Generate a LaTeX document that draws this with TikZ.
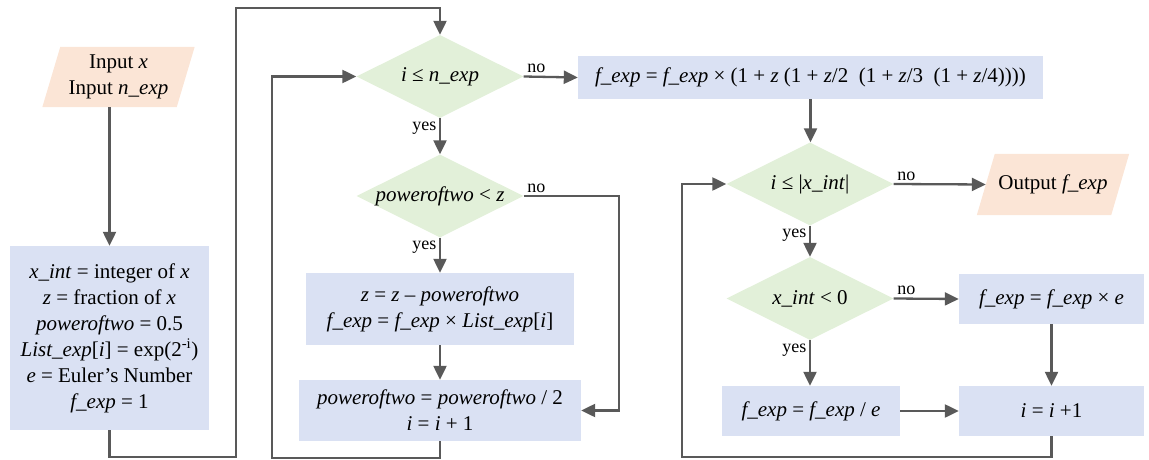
\documentclass[tikz,border=0pt]{standalone}
\usepackage{fontspec}
\setmainfont{Liberation Serif}
\usetikzlibrary{arrows.meta,shapes.geometric,calc,backgrounds}
\definecolor{peach}{HTML}{FBE5D6}
\definecolor{procblue}{HTML}{DAE1F3}
\definecolor{decgreen}{HTML}{E2F0D9}
\definecolor{linegray}{HTML}{595959}
\newcommand\zw[1]{\makebox[0pt]{#1}}
\tikzset{
 base/.style={inner sep=0pt, align=center, font=\fontsize{21}{26}\selectfont},
 proc/.style={base, rectangle, fill=procblue},
 dec/.style={base, diamond, fill=decgreen, minimum width=167pt, minimum height=83pt, aspect=2},
 iotext/.style={base, rectangle},
 arr/.style={draw=linegray, line width=2.3pt, -{Triangle[length=14pt,width=13pt]}},
 lab/.style={font=\fontsize{18}{20}\selectfont, inner sep=2.5pt},
}
\begin{document}
\begin{tikzpicture}[x=1pt,y=-1pt]
\useasboundingbox (0,0) rectangle (1149,460);

% nodes
\node[iotext, minimum width=134pt, minimum height=60pt] (in) at (118.5,77) {Input \textit{x}\\Input \textit{n\_exp}};
\node[proc, minimum width=199pt, minimum height=184pt] (init) at (109.5,338)
 {\textit{x\_int} = integer of \textit{x}\\
  \textit{z} = fraction of \textit{x}\\
  \textit{poweroftwo} = 0.5\\
  \textit{List\_exp}[\textit{i}] = exp(2\textsuperscript{-i})\\
  \textit{e} = Euler’s Number\\
  \textit{f\_exp} = 1};
\node[dec] (d1) at (440,76.5) {\zw{\textit{i} ≤ \textit{n\_exp}}};
\node[dec] (d2) at (440,196) {\zw{\textit{poweroftwo} < \textit{z}}};
\node[proc, minimum width=268pt, minimum height=72pt] (b1) at (440,309)
 {\textit{z} = \textit{z} – \textit{poweroftwo}\\ \textit{f\_exp} = \textit{f\_exp} × \textit{List\_exp}[\textit{i}]};
\node[proc, minimum width=282pt, minimum height=61pt] (b2) at (440,410.5)
 {\textit{poweroftwo} = \textit{poweroftwo} / 2\\ \textit{i} = \textit{i} + 1};
\node[proc, minimum width=465pt, minimum height=43pt] (fe) at (810.5,77.5)
 {\textit{f\_exp} = \textit{f\_exp} × (1 + \textit{z} (1 + \textit{z}/2~~(1 + \textit{z}/3~~(1 + \textit{z}/4))))};
\node[dec] (d3) at (810,184) {\zw{\textit{i} ≤ |\textit{x\_int}|}};
\node[iotext, minimum width=134pt, minimum height=61pt] (out) at (1053,184.5) {Output \textit{f\_exp}};
\node[dec] (d4) at (810,298.5) {\zw{\textit{x\_int} < 0}};
\node[proc, minimum width=185pt, minimum height=50pt] (bxe) at (1051.5,299) {\textit{f\_exp} = \textit{f\_exp} × \textit{e}};
\node[proc, minimum width=178pt, minimum height=50pt] (bdiv) at (811,411) {\textit{f\_exp} = \textit{f\_exp} / \textit{e}};
\node[proc, minimum width=185pt, minimum height=50pt] (binc) at (1051.5,411) {\textit{i} = \textit{i} +1};

% parallelogram fills
\begin{scope}[on background layer]
\fill[peach] ($(in.south west)+(-9,0)$) -- ($(in.north west)+(9,0)$) -- ($(in.north east)+(9,0)$) -- ($(in.south east)+(-9,0)$) -- cycle;
\fill[peach] ($(out.south west)+(-9,0)$) -- ($(out.north west)+(9,0)$) -- ($(out.north east)+(9,0)$) -- ($(out.south east)+(-9,0)$) -- cycle;
\end{scope}

% connectors
\draw[arr] (init.north |- in.south) -- (init.north);
\draw[arr] (init.south) |- (236,457) |- ($(d1.north)+(0,-27)$) -- (d1.north);
\draw[arr] (d1.east) -- node[lab, above right, at start]{no} (fe.west);
\draw[arr] (d1.south) -- node[lab, below left, at start]{yes} (d2.north);
\draw[arr] (d2.east) -- node[lab, above right, at start]{no} ($(d2.east)+(95,0)$) |- (b2.east);
\draw[arr] (d2.south) -- node[lab, below left, at start]{yes} (b1.north);
\draw[arr] (b1.south) -- (b2.north);
\draw[arr] (b2.south) |- (272,458) |- (d1.west);
\draw[arr] (fe.south) -- (fe.south |- d3.north);
\draw[arr] (d3.east) -- node[lab, above right, at start]{no} (out.west);
\draw[arr] (d3.south) -- node[lab, below left, at start]{yes} (d4.north);
\draw[arr] (d4.east) -- node[lab, above right, at start]{no} (bxe.west);
\draw[arr] (d4.south) -- node[lab, below left, at start]{yes} (d4.south |- bdiv.north);
\draw[arr] (bdiv.east) -- (binc.west);
\draw[arr] (bxe.south) -- (binc.north);
\draw[arr] (binc.south) |- (682,457) |- (d3.west);
\end{tikzpicture}
\end{document}
